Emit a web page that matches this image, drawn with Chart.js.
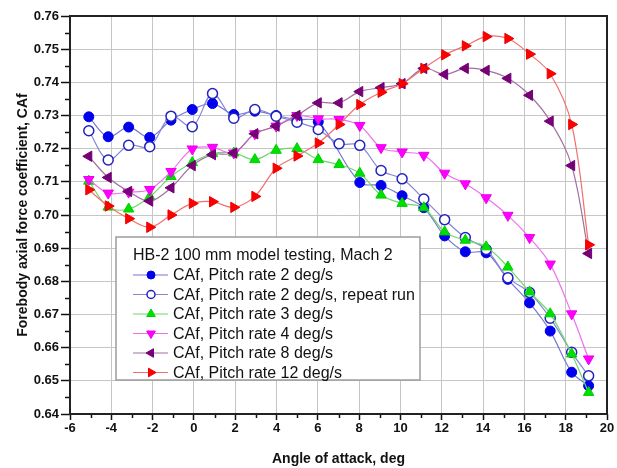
<!DOCTYPE html>
<html lang="en">
<head>
    <meta charset="UTF-8">
    <title>HB-2 forebody axial force</title>
    <script src="https://cdn.jsdelivr.net/npm/chart.js@4.4.0/dist/chart.umd.min.js"></script>
    <style>
        html, body { margin: 0; padding: 0; background: #ffffff; }
        #wrap { width: 617px; height: 468px; }
    </style>
</head>
<body>
    <div id="wrap"><canvas id="cafChart" width="617" height="468"></canvas></div>
    <script>
        // angle of attack, deg (same stations for every run)
        const aoa = [-5.09, -4.15, -3.16, -2.14, -1.11, -0.08, 0.90, 1.93, 2.95, 3.98, 4.99, 6.02, 7.03,
                     8.03, 9.06, 10.08, 11.13, 12.14, 13.14, 14.15, 15.20, 16.25, 17.25, 18.29, 19.11];

        // no point recorded at 7 deg for the first 2 deg/s run
        const rate2 = [0.7296, 0.7236, 0.7265, 0.7234, 0.7286, 0.7318, 0.7336, 0.7303, 0.7313, 0.7300, 0.7288, 0.7281, null,
                       0.7098, 0.7089, 0.7058, 0.7022, 0.6937, 0.6889, 0.6886, 0.6806, 0.6735, 0.6650, 0.6526, 0.6485];
        const rate2Repeat = [0.7254, 0.7166, 0.7210, 0.7206, 0.7298, 0.7266, 0.7366, 0.7292, 0.7318, 0.7298, 0.7280, 0.7258, 0.7215,
                             0.7210, 0.7134, 0.7109, 0.7048, 0.6986, 0.6932, 0.6896, 0.6811, 0.6766, 0.6689, 0.6586, 0.6515];
        const rate3 = [0.7102, 0.7024, 0.7018, 0.7055, 0.7116, 0.7158, 0.7185, 0.7187, 0.7167, 0.7195, 0.7200, 0.7167, 0.7152,
                       0.7126, 0.7060, 0.7035, 0.7022, 0.6949, 0.6924, 0.6904, 0.6843, 0.6768, 0.6702, 0.6581, 0.6465];
        const rate4 = [0.7107, 0.7066, 0.7069, 0.7077, 0.7131, 0.7199, 0.7204, 0.7187, 0.7245, 0.7268, 0.7300, 0.7290, 0.7288,
                       0.7270, 0.7203, 0.7190, 0.7180, 0.7126, 0.7094, 0.7052, 0.6999, 0.6932, 0.6852, 0.6702, 0.6566];
        const rate8 = [0.7177, 0.7113, 0.7071, 0.7042, 0.7082, 0.7149, 0.7182, 0.7187, 0.7245, 0.7268, 0.7300, 0.7338, 0.7338,
                       0.7372, 0.7384, 0.7396, 0.7442, 0.7424, 0.7442, 0.7436, 0.7412, 0.7361, 0.7283, 0.7149, 0.6884];
        const rate12 = [0.7076, 0.7027, 0.6989, 0.6963, 0.7000, 0.7035, 0.7040, 0.7023, 0.7056, 0.7141, 0.7178, 0.7217, 0.7273,
                        0.7333, 0.7370, 0.7396, 0.7442, 0.7483, 0.7510, 0.7538, 0.7532, 0.7485, 0.7426, 0.7273, 0.6910];

        const seriesLabels = [
            'CAf, Pitch rate 2 deg/s',
            'CAf, Pitch rate 2 deg/s, repeat run',
            'CAf, Pitch rate 3 deg/s',
            'CAf, Pitch rate 4 deg/s',
            'CAf, Pitch rate 8 deg/s',
            'CAf, Pitch rate 12 deg/s'
        ];
        const legendTitle = 'HB-2 100 mm model testing, Mach 2';
        const xTicks = [-6, -4, -2, 0, 2, 4, 6, 8, 10, 12, 14, 16, 18, 20];

        const FONT = 'Arial, "Liberation Sans", sans-serif';

        function pts(vals) {
            return aoa.map((x, i) => ({ x: x, y: vals[i] })).filter(p => p.y !== null);
        }

        function series(i, vals, style) {
            return Object.assign({
                label: seriesLabels[i],
                data: pts(vals),
                showLine: true,
                tension: 0.35,
                borderWidth: 1.2,
                pointRadius: 5,
                pointBorderWidth: 1,
                order: 5 - i
            }, style);
        }

        const datasets = [
            series(0, rate2, {
                borderColor: '#7777d4', pointStyle: 'circle',
                pointBackgroundColor: '#0000ee', pointBorderColor: '#0000ee'
            }),
            series(1, rate2Repeat, {
                borderColor: '#8484d8', pointStyle: 'circle', pointBorderWidth: 1.5,
                pointBackgroundColor: '#ffffff', pointBorderColor: '#2222c0'
            }),
            series(2, rate3, {
                borderColor: '#6fd86f', pointStyle: 'triangle', pointRadius: 6,
                pointBackgroundColor: '#00e000', pointBorderColor: '#00d000'
            }),
            series(3, rate4, {
                borderColor: '#ee70ee', pointStyle: 'triangle', pointRotation: 180, pointRadius: 6,
                pointBackgroundColor: '#ff00ff', pointBorderColor: '#ee00ee'
            }),
            series(4, rate8, {
                borderColor: '#a070a0', pointStyle: 'triangle', pointRotation: -90, pointRadius: 6,
                pointBackgroundColor: '#760076', pointBorderColor: '#760076'
            }),
            series(5, rate12, {
                borderColor: '#f07070', pointStyle: 'triangle', pointRotation: 90, pointRadius: 6,
                pointBackgroundColor: '#ff0000', pointBorderColor: '#ee0000'
            })
        ];

        // frame, minor ticks and the boxed legend inside the plot
        const framePlugin = {
            id: 'frame',
            beforeDraw(chart) {
                const ctx = chart.ctx;
                ctx.save();
                ctx.fillStyle = '#ffffff';
                ctx.fillRect(0, 0, chart.width, chart.height);
                ctx.restore();
            },
            afterDatasetsDraw(chart) {
                const ctx = chart.ctx;
                const a = chart.chartArea;
                const xs = chart.scales.x, ys = chart.scales.y;
                ctx.save();
                ctx.strokeStyle = '#111';
                ctx.lineWidth = 1.5;
                ctx.beginPath();
                for (let v = 0.645; v < 0.76; v += 0.01) {
                    const py = Math.round(ys.getPixelForValue(v)) + 0.5;
                    ctx.moveTo(a.left - 5, py);
                    ctx.lineTo(a.left, py);
                }
                for (let v = -5; v < 20; v += 2) {
                    const px = Math.round(xs.getPixelForValue(v)) + 0.5;
                    ctx.moveTo(px, a.bottom);
                    ctx.lineTo(px, a.bottom + 4);
                }
                ctx.stroke();

                ctx.strokeStyle = '#222';
                ctx.lineWidth = 2;
                ctx.strokeRect(a.left, a.top, a.right - a.left, a.bottom - a.top);

                // legend box
                const bx = a.left + 46, by = a.top + 221, bw = 304, bh = 143;
                ctx.fillStyle = '#ffffff';
                ctx.fillRect(bx, by, bw, bh);
                ctx.strokeStyle = '#9c9c9c';
                ctx.lineWidth = 1.5;
                ctx.strokeRect(bx, by, bw, bh);

                ctx.font = '16px ' + FONT;
                ctx.fillStyle = '#111';
                ctx.textBaseline = 'middle';
                ctx.textAlign = 'left';
                ctx.fillText(legendTitle, bx + 17, by + 19);

                chart.data.datasets.forEach((ds, i) => {
                    const cy = by + 38 + i * 19.5;
                    ctx.strokeStyle = ds.borderColor;
                    ctx.lineWidth = 1.2;
                    ctx.beginPath();
                    ctx.moveTo(bx + 17, cy);
                    ctx.lineTo(bx + 52, cy);
                    ctx.stroke();
                    ctx.fillStyle = ds.pointBackgroundColor;
                    ctx.strokeStyle = ds.pointBorderColor;
                    ctx.lineWidth = ds.pointBorderWidth;
                    Chart.helpers.drawPoint(ctx, {
                        pointStyle: ds.pointStyle,
                        rotation: ds.pointRotation || 0,
                        radius: ds.pointStyle === 'circle' ? 4 : 5,
                        borderWidth: ds.pointBorderWidth
                    }, bx + 35, cy);
                    ctx.fillStyle = '#111';
                    ctx.fillText(ds.label, bx + 57, cy + 1);
                });
                ctx.restore();
            }
        };

        new Chart(document.getElementById('cafChart'), {
            type: 'scatter',
            data: { datasets: datasets },
            plugins: [framePlugin],
            options: {
                responsive: false,
                animation: false,
                layout: { padding: { left: 0, top: 16, right: 10, bottom: 0 } },
                plugins: {
                    legend: { display: false },
                    tooltip: { enabled: false }
                },
                scales: {
                    x: {
                        type: 'linear',
                        min: -6,
                        max: 20,
                        afterBuildTicks: s => { s.ticks = xTicks.map(v => ({ value: v })); },
                        afterFit: s => { s.height = 54; },
                        grid: { color: '#c6c6c6', lineWidth: 1, tickColor: '#111', tickLength: 6, tickWidth: 1.5 },
                        border: { display: false },
                        ticks: {
                            color: '#111', padding: 1,
                            font: { family: FONT, size: 13, weight: 'bold' }
                        },
                        title: {
                            display: true,
                            text: 'Angle of attack, deg',
                            color: '#111',
                            padding: { top: 0, bottom: 0 },
                            font: { family: FONT, size: 14, weight: 'bold' }
                        }
                    },
                    y: {
                        min: 0.64,
                        max: 0.76,
                        afterFit: s => { s.width = 70; },
                        grid: { color: '#c6c6c6', lineWidth: 1, tickColor: '#111', tickLength: 9, tickWidth: 1.5 },
                        border: { display: false },
                        ticks: {
                            stepSize: 0.01,
                            color: '#111', padding: 2,
                            font: { family: FONT, size: 13, weight: 'bold' },
                            callback: v => v.toFixed(2)
                        },
                        title: {
                            display: true,
                            text: 'Forebody axial force coefficient, CAf',
                            color: '#111',
                            padding: { top: 15, bottom: 0 },
                            font: { family: FONT, size: 14, weight: 'bold' }
                        }
                    }
                }
            }
        });
    </script>
</body>
</html>
